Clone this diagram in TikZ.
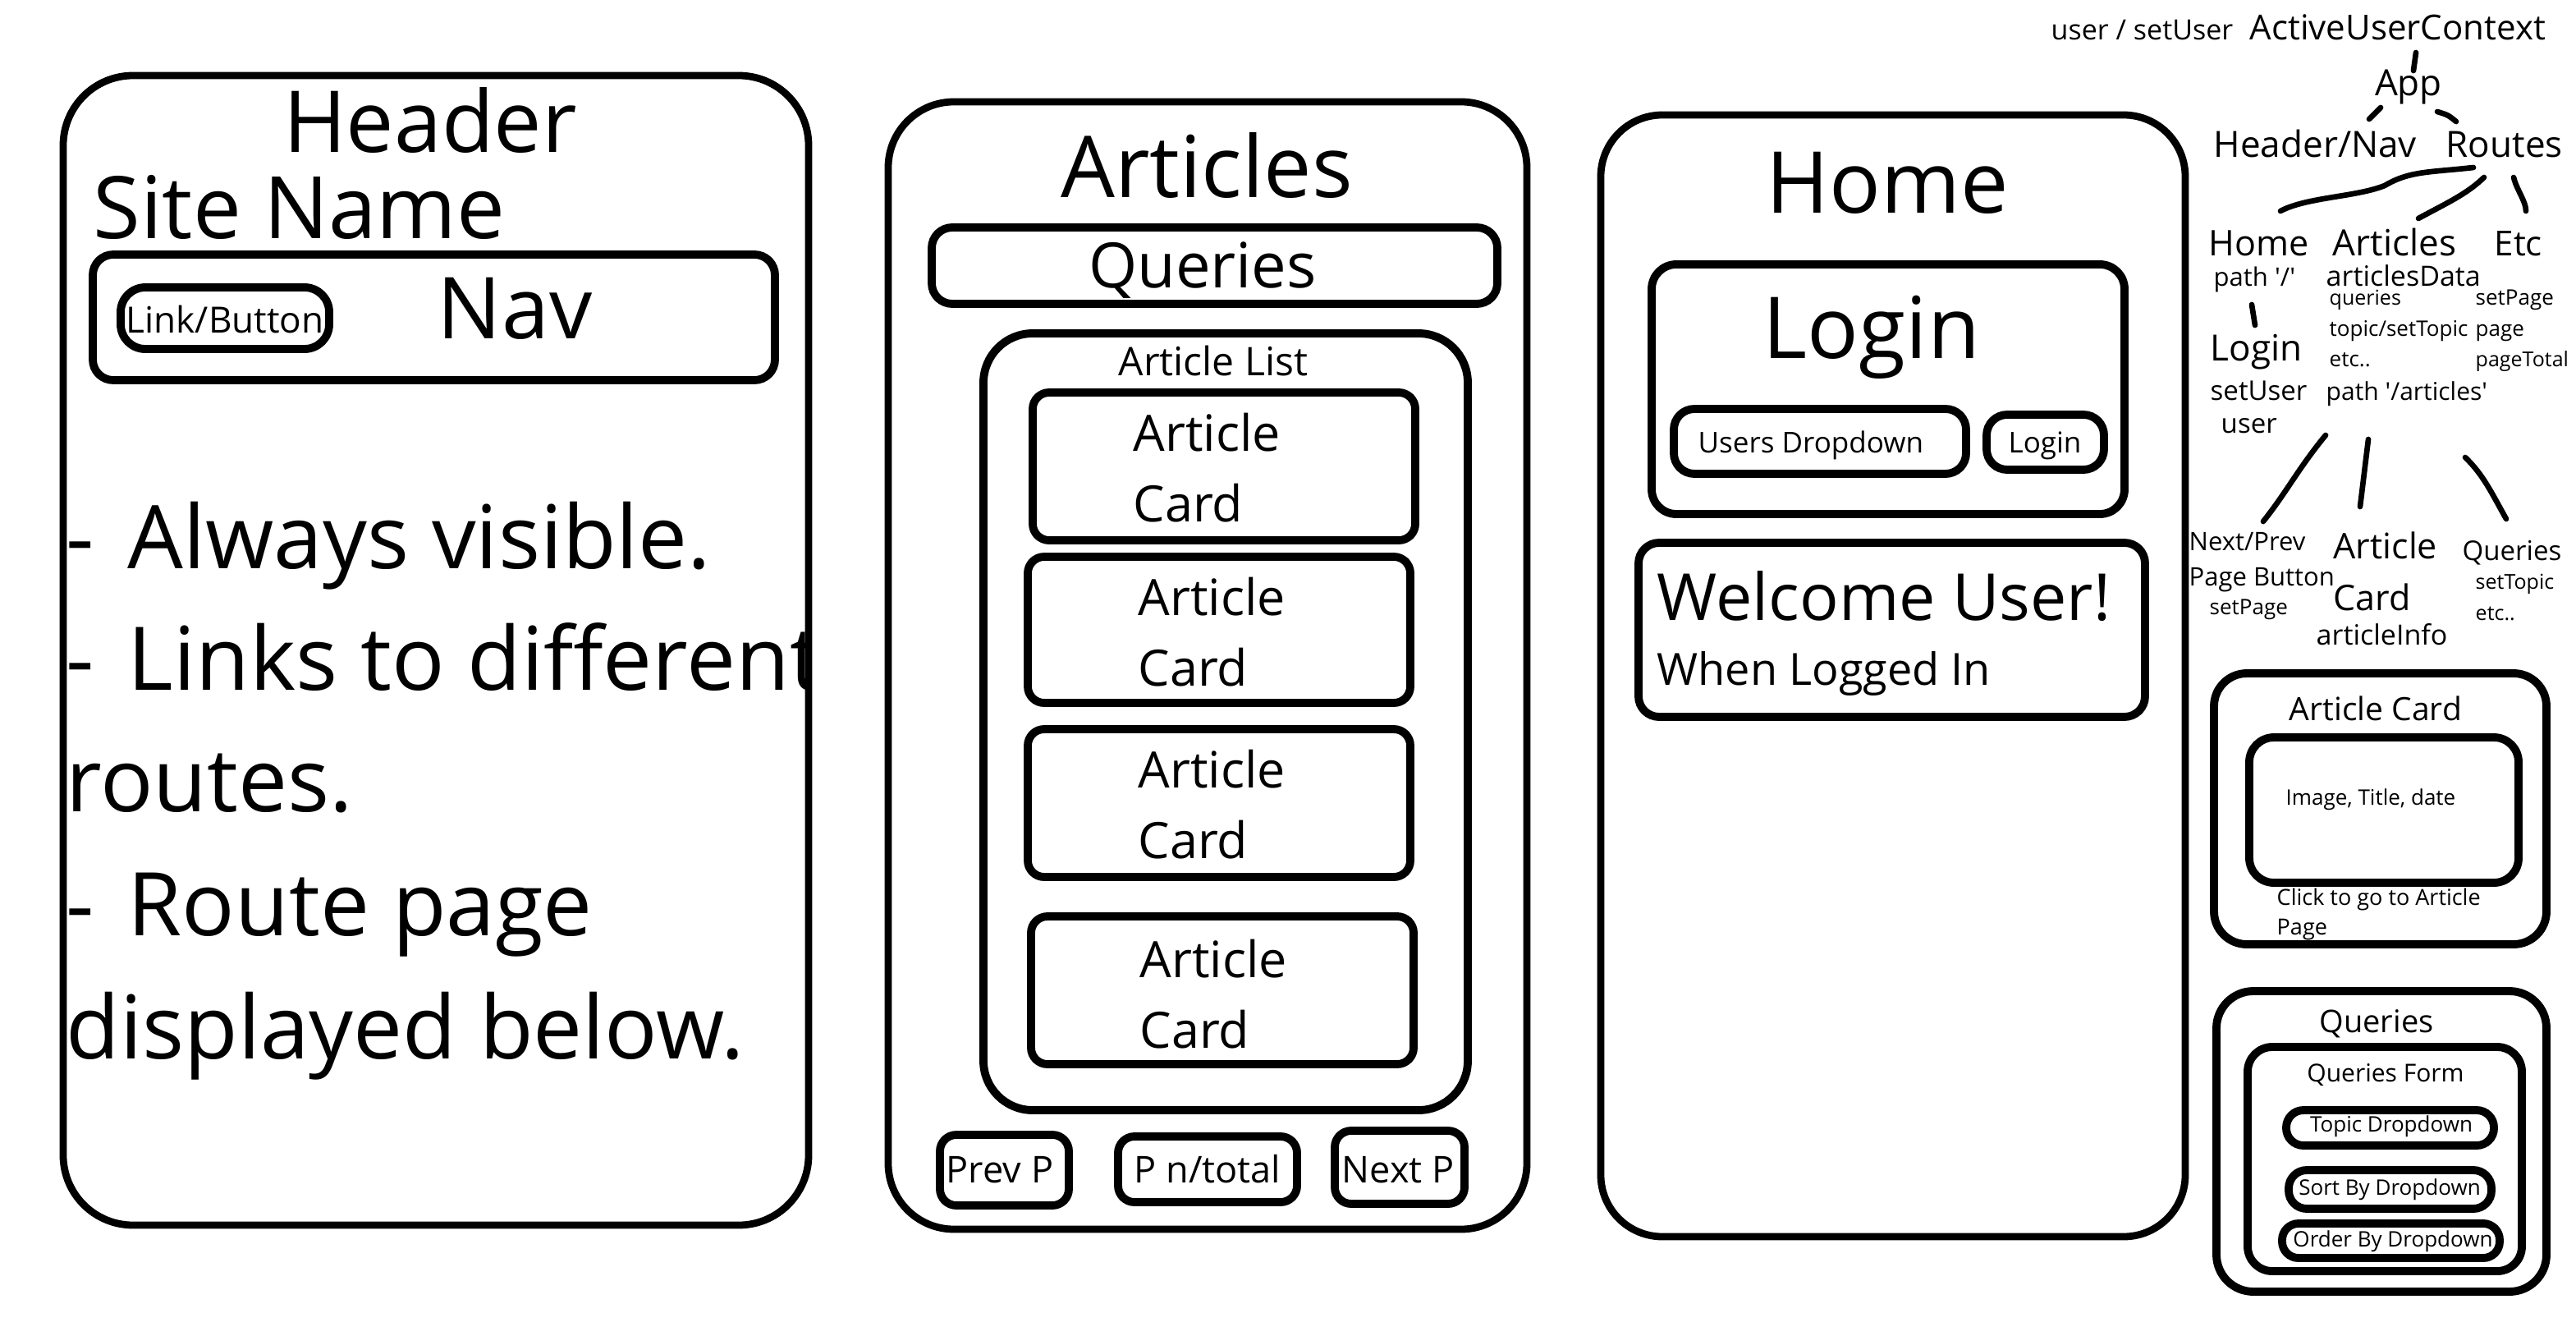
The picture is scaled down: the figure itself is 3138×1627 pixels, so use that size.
\documentclass[tikz,border=0pt]{standalone}
\usepackage{fontspec}
\newfontfamily\osans{Open Sans}
% font size given in picture units (1 unit = 0.01cm)
\newcommand\fpx[1]{\fontsize{\dimexpr 0.28453pt*#1\relax}{\dimexpr 0.35pt*#1\relax}\selectfont}
\begin{document}
\begin{tikzpicture}[x=0.01cm,y=-0.01cm,
  panel/.style={line width=2.5pt, rounded corners=#1},
  panel/.default=0.8cm,
  box/.style={line width=2.8pt, rounded corners=#1},
  box/.default=0.25cm,
  lbl/.style={inner sep=0pt, anchor=base, font=\osans},
  lblw/.style={inner sep=0pt, anchor=base west, font=\osans},
  stroke/.style={line width=1.9pt, line cap=round, line join=round}]

\fill[white] (0,0) rectangle (3138,1627);
\useasboundingbox (0,0) rectangle (3138,1627);

% ---------- Header page ----------
\draw[panel=0.85cm] (77,92) rectangle (985,1492);
\node[lbl] (hdr) at (524,185) {\fpx{104}Header};
\node[lblw] (site) at (113,290) {\fpx{105}Site Name};
\draw[box=0.25cm] (113,310) rectangle (944,463);
\draw[box=0.3cm] (147,350) rectangle (401,425);
\node[lbl] (linkbtn) at (274,405) {\fpx{44}Link/Button};
\node[lbl] (nav) at (627,412) {\fpx{104}Nav};
\begin{scope}
  \clip (0,0) rectangle (984,1627);
  \node[lblw] (b1) at (80,692) {\fpx{107}-\hspace{0.12em} Always visible.};
  \node[lblw] (b2) at (80,840) {\fpx{107}-\hspace{0.12em} Links to different};
  \node[lblw] (b3) at (80,988) {\fpx{107}routes.};
  \node[lblw] (b4) at (80,1139) {\fpx{107}-\hspace{0.12em} Route page};
  \node[lblw] (b5) at (80,1289) {\fpx{107}displayed below.};
\end{scope}

% ---------- Articles page ----------
\draw[panel=0.8cm] (1082,124) rectangle (1860,1497);
\node[lbl] (arts) at (1470,240) {\fpx{104}Articles};
\draw[box=0.25cm] (1135,277) rectangle (1824,370);
\node[lbl] (qry) at (1465,350) {\fpx{76}Queries};
\draw[box=0.6cm] (1198,406) rectangle (1788,1352);
\node[lbl] (alist) at (1478,457) {\fpx{48}Article List};

\draw[box=0.2cm] (1258,478) rectangle (1724,658);
\node[lblw] (c1a) at (1380,549) {\fpx{61}Article};
\node[lblw] (c1b) at (1380,635) {\fpx{61}Card};
\draw[box=0.2cm] (1252,678) rectangle (1718,856);
\node[lblw] (c2a) at (1386,749) {\fpx{61}Article};
\node[lblw] (c2b) at (1386,835) {\fpx{61}Card};
\draw[box=0.2cm] (1252,888) rectangle (1718,1068);
\node[lblw] (c3a) at (1386,959) {\fpx{61}Article};
\node[lblw] (c3b) at (1386,1045) {\fpx{61}Card};
\draw[box=0.2cm] (1256,1116) rectangle (1722,1296);
\node[lblw] (c4a) at (1388,1190) {\fpx{61}Article};
\node[lblw] (c4b) at (1388,1276) {\fpx{61}Card};

\draw[box=0.2cm] (1145,1382) rectangle (1302,1468);
\node[lbl] (prev) at (1218,1440) {\fpx{45}Prev P};
\draw[box=0.2cm] (1362,1384) rectangle (1580,1464);
\node[lbl] (pn) at (1471,1440) {\fpx{45}P n/total};
\draw[box=0.2cm] (1626,1377) rectangle (1784,1466);
\node[lbl] (next) at (1703,1440) {\fpx{45}Next P};

% ---------- Home page ----------
\draw[panel=0.75cm] (1950,140) rectangle (2662,1506);
\node[lbl] (home) at (2299,259) {\fpx{104}Home};
\draw[box=0.3cm] (2012,322) rectangle (2588,626);
\node[lbl] (login) at (2280,436) {\fpx{104}Login};
\draw[box=0.25cm] (2039,498) rectangle (2395,577);
\node[lblw] (udd) at (2068,551) {\fpx{35}Users Dropdown};
\draw[box=0.25cm] (2420,505) rectangle (2563,572);
\node[lbl] (lbtn) at (2491,551) {\fpx{35}Login};
\draw[box=0.25cm] (1996,661) rectangle (2613,873);
\node[lblw] (welc) at (2018,755) {\fpx{79}Welcome User!};
\node[lblw] (whenli) at (2018,834) {\fpx{54}When Logged In};

% ---------- Component tree ----------
\node[lblw] (tuser) at (2498,48) {\fpx{34}user / setUser};
\node[lblw] (tctx) at (2740,48) {\fpx{42}ActiveUserContext};
\node[lbl] (tapp) at (2934,116) {\fpx{44}App};
\node[lblw] (thnav) at (2696,191) {\fpx{44}Header/Nav};
\node[lblw] (troutes) at (2979,191) {\fpx{44}Routes};
\node[lblw] (thome) at (2690,311) {\fpx{43}Home};
\node[lblw] (tart) at (2841,311) {\fpx{44}Articles};
\node[lblw] (tetc) at (3038,311) {\fpx{42}Etc};
\node[lblw] (tpath1) at (2696,348) {\fpx{31}path '/'};
\node[lblw] (tadata) at (2833,348) {\fpx{34}articlesData};
\node[lblw] (tq) at (2837,371) {\fpx{25}queries};
\node[lblw] (tsp) at (3015,371) {\fpx{26}setPage};
\node[lblw] (ttopic) at (2837,409) {\fpx{26}topic/setTopic};
\node[lblw] (tpage) at (3015,409) {\fpx{26}page};
\node[lblw] (tetc2) at (2837,446) {\fpx{26}etc..};
\node[lblw] (tptot) at (3015,446) {\fpx{25}pageTotal};
\node[lblw] (tlogin) at (2692,439) {\fpx{44}Login};
\node[lblw] (tsetu) at (2692,487) {\fpx{33}setUser};
\node[lblw] (tpath2) at (2833,487) {\fpx{30}path '/articles'};
\node[lblw] (tuser2) at (2705,527) {\fpx{33}user};
\node[lblw] (tnp) at (2666,670) {\fpx{31}Next/Prev};
\node[lblw] (tpb) at (2666,713) {\fpx{31}Page Button};
\node[lblw] (tsp2) at (2691,748) {\fpx{26}setPage};
\node[lblw] (tac1) at (2842,680) {\fpx{43}Article};
\node[lblw] (tac2) at (2842,743) {\fpx{43}Card};
\node[lblw] (tainfo) at (2821,785) {\fpx{34}articleInfo};
\node[lblw] (tqs) at (2999,682) {\fpx{33}Queries};
\node[lblw] (tst) at (3015,717) {\fpx{25}setTopic};
\node[lblw] (tetc3) at (3015,755) {\fpx{25}etc..};

% stroke ends
\coordinate (ctx-s) at (2943,64);   \coordinate (app-n) at (2940,86);
\coordinate (app-sw) at (2900,131); \coordinate (hnav-n) at (2886,145);
\coordinate (app-se) at (2969,136); \coordinate (rt-n) at (2992,148);
\coordinate (rt-s1) at (3013,204);  \coordinate (home-n) at (2778,257);
\coordinate (rt-s2) at (3026,216);  \coordinate (art-n) at (2946,266);
\coordinate (rt-s3) at (3062,216);  \coordinate (etc-n) at (3077,257);
\coordinate (home-s) at (2743,371); \coordinate (login-n) at (2747,396);
\coordinate (art-s1) at (2833,530); \coordinate (np-n) at (2757,635);
\coordinate (art-s2) at (2885,535); \coordinate (ac-n) at (2875,617);
\coordinate (art-s3) at (3003,557); \coordinate (qs-n) at (3053,632);

\draw[stroke] (ctx-s) -- (app-n);
\draw[stroke] (app-sw) -- (hnav-n);
\draw[stroke] (app-se) .. controls (2982,140) .. (rt-n);
\draw[stroke] (rt-s1) .. controls (2960,210) and (2935,208) .. (2905,226)
  .. controls (2870,240) and (2810,240) .. (home-n);
\draw[stroke] (rt-s2) .. controls (3005,236) and (2985,245) .. (art-n);
\draw[stroke] (rt-s3) .. controls (3066,232) and (3077,245) .. (etc-n);
\draw[stroke] (home-s) -- (login-n);
\draw[stroke] (art-s1) .. controls (2800,570) and (2785,600) .. (np-n);
\draw[stroke] (art-s2) -- (ac-n);
\draw[stroke] (art-s3) .. controls (3025,578) and (3035,600) .. (qs-n);

% ---------- Article Card detail ----------
\draw[box=0.4cm] (2697,820) rectangle (3102,1150);
\node[lbl] (acard) at (2894,877) {\fpx{39}Article Card};
\draw[box=0.3cm] (2740,898) rectangle (3068,1075);
\node[lblw] (aimg) at (2784,980) {\fpx{26}Image, Title, date};
\node[lblw] (aclick) at (2773,1102) {\fpx{27}Click to go to Article};
\node[lblw] (apage) at (2773,1138) {\fpx{27}Page};

% ---------- Queries detail ----------
\draw[box=0.45cm] (2700,1207) rectangle (3102,1573);
\node[lbl] (qtitle) at (2895,1257) {\fpx{38}Queries};
\draw[box=0.3cm] (2738,1275) rectangle (3072,1548);
\node[lbl] (qform) at (2906,1317) {\fpx{30}Queries Form};
\draw[box=0.21cm] (2785,1352) rectangle (3038,1395);
\node[lbl] (qtopic) at (2913,1378) {\fpx{26}Topic Dropdown};
\draw[box=0.22cm] (2788,1425) rectangle (3035,1472);
\node[lbl] (qsort) at (2911,1455) {\fpx{26}Sort By Dropdown};
\draw[box=0.2cm] (2780,1490) rectangle (3045,1532);
\node[lbl] (qorder) at (2915,1518) {\fpx{26}Order By Dropdown};
\end{tikzpicture}
\end{document}
